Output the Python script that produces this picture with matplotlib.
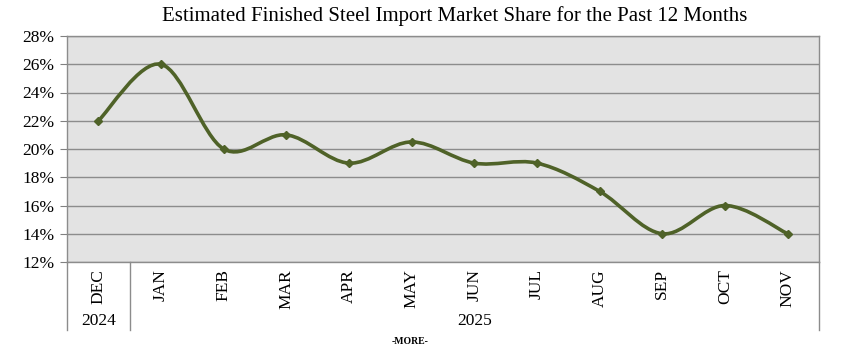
import numpy as np
import matplotlib.pyplot as plt
from matplotlib.path import Path
from matplotlib.patches import PathPatch

# data
months = ["DEC", "JAN", "FEB", "MAR", "APR", "MAY", "JUN", "JUL", "AUG", "SEP", "OCT", "NOV"]
share = [22, 26, 20, 21, 19, 20.5, 19, 19, 17, 14, 16, 14]
years = ["2024", "2025"]
year_start = [0, 1]   # index of first month in each year
yticks = [12, 14, 16, 18, 20, 22, 24, 26, 28]

plt.rcParams['font.family'] = ['Liberation Serif', 'DejaVu Serif']
line_col = "#4F6228"

fig = plt.figure(figsize=(8.47, 3.46), dpi=100)
ax = fig.add_axes([67/847, 1 - 262/346, (819 - 67)/847, (262 - 36)/346])
ax.set_facecolor("#E3E3E3")

x = np.arange(len(months))
y = np.array(share, dtype=float)

# smoothed line like the spreadsheet (bezier through points)
verts = [(x[0], y[0])]
codes = [Path.MOVETO]
n = len(x)
for i in range(n - 1):
    p0 = np.array([x[max(i - 1, 0)], y[max(i - 1, 0)]])
    p1 = np.array([x[i], y[i]])
    p2 = np.array([x[i + 1], y[i + 1]])
    p3 = np.array([x[min(i + 2, n - 1)], y[min(i + 2, n - 1)]])
    c1 = p1 + (p2 - p0) / 6
    c2 = p2 - (p3 - p1) / 6
    verts += [tuple(c1), tuple(c2), tuple(p2)]
    codes += [Path.CURVE4] * 3
ax.add_patch(PathPatch(Path(verts, codes), fill=False, edgecolor=line_col, lw=2.6, zorder=3))
ax.plot(x, y, linestyle="none", marker="D", ms=4, color=line_col, zorder=4)

ax.set_xlim(-0.5, n - 0.5)
ax.set_ylim(12, 28)
ax.set_yticks(yticks)
ax.set_yticklabels([f"{v}%" for v in yticks], fontsize=12.5)
ax.yaxis.grid(True, color="#8C8C8C", lw=1)
ax.set_axisbelow(True)
ax.tick_params(axis="y", length=5, color="#808080", pad=4)

ax.set_xticks(x)
ax.set_xticklabels(months, rotation=90, fontsize=12.5, va="top")
ax.tick_params(axis="x", length=0, pad=5)

for s in ax.spines.values():
    s.set_color("#8C8C8C")
    s.set_linewidth(1)

# year group separators and labels under the axis
trans = ax.get_xaxis_transform()
bounds = year_start + [n]
for b in bounds:
    ax.plot([b - 0.5, b - 0.5], [0, -0.30], transform=trans, color="#8C8C8C", lw=1, clip_on=False)
for k, yr in enumerate(years):
    mid = (bounds[k] + bounds[k + 1] - 1) / 2
    ax.text(mid, -0.26, yr, transform=trans, ha="center", va="center", fontsize=12.5)

fig.text(0.537, 0.955, "Estimated Finished Steel Import Market Share for the Past 12 Months",
         ha="center", va="center", fontsize=15)
fig.text(410/847, 0.0, "-MORE-", ha="center", va="bottom", fontsize=7, fontweight="bold")

fig.savefig("out.png", dpi=100)
